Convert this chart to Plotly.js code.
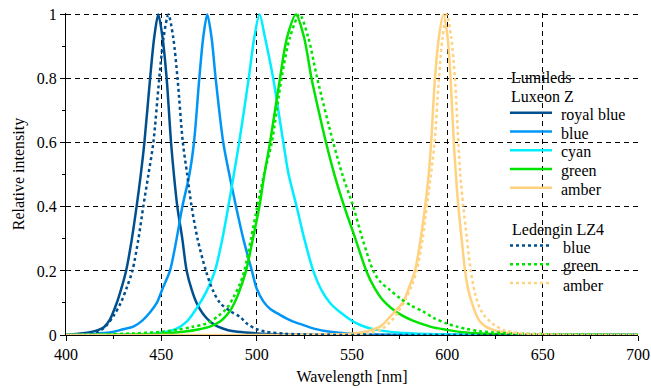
<!DOCTYPE html>
<html>
<head>
<meta charset="utf-8">
<script src="https://cdn.plot.ly/plotly-3.0.1.min.js"></script>
<style>
  html, body { margin: 0; padding: 0; background: #fff; }
  #chart { width: 651px; height: 388px; }
</style>
</head>
<body>
<div id="chart"></div>
<script>
// ---- Data (wavelength in nm, relative intensity) ----
const royalBlueX = [400,405,410,415,418,420,423,426.6,429,431.5,434,437,439.2,441.1,444.1,446.3,448.4,450.6,452.8,455.1,456.6,458.4,461,463.3,466,468.5,472,476,480,485,490,500,510,520,560,600,700];
const royalBlueY = [0,0.003,0.006,0.012,0.018,0.025,0.048,0.1,0.145,0.2,0.28,0.4,0.5,0.6,0.8,0.93,1,0.93,0.8,0.6,0.5,0.4,0.3,0.2,0.14,0.1,0.065,0.04,0.025,0.015,0.01,0.005,0.002,0.001,0,0,0];

const blueX = [400,410,420,425,430,435.3,440,444,447.6,451,454.5,458,461,464.7,467.1,469.9,472,474.1,476.3,478.5,482.5,485.7,489.2,493,497.5,500,503.5,507,512.2,518,524.5,530,538.5,550,565,600,700];
const blueY = [0,0.002,0.006,0.01,0.018,0.026,0.045,0.07,0.1,0.15,0.2,0.3,0.4,0.5,0.6,0.8,0.93,1,0.93,0.8,0.6,0.5,0.4,0.3,0.2,0.145,0.105,0.082,0.063,0.045,0.031,0.02,0.01,0.004,0.001,0,0];

const cyanX = [400,440,450,452.8,458,463.3,467,470.3,474,478.1,482,485.1,488,490.8,495.8,498.8,501.5,504.3,508.7,514,516.8,521,525,529.7,534,538.5,544,550.7,557,563,575,590,610,650,700];
const cyanY = [0,0.002,0.007,0.01,0.02,0.042,0.07,0.1,0.14,0.2,0.3,0.4,0.5,0.6,0.8,0.93,1,0.93,0.8,0.6,0.5,0.4,0.3,0.2,0.14,0.1,0.07,0.042,0.025,0.016,0.007,0.003,0.001,0,0];

const greenX = [400,440,450,461.5,470,475.5,480.8,484.3,487,490.5,494.4,498,501.4,504,507,512.2,516,520.6,524.8,528.8,532.5,536.4,540.8,546,551.8,557.5,561.5,566,571,576,581,587.4,593,599.7,608,617,630,650,700];
const greenY = [0,0.002,0.004,0.01,0.018,0.026,0.042,0.062,0.085,0.13,0.2,0.3,0.4,0.5,0.6,0.8,0.93,1,0.93,0.8,0.7,0.6,0.5,0.4,0.3,0.2,0.15,0.11,0.082,0.062,0.047,0.033,0.023,0.016,0.009,0.005,0.002,0.001,0];

const amberX = [400,540,550.7,558,564.7,568.2,572,576.9,580,583,586,588.3,590.2,591.5,593.5,595.6,597.9,600.1,601.7,603.4,604.5,605.8,607.5,609.3,611,612.7,615,617.1,620,624.1,630,634,645,660,700];
const amberY = [0,0.002,0.005,0.012,0.026,0.045,0.07,0.104,0.15,0.2,0.3,0.4,0.5,0.6,0.8,0.93,1,0.93,0.8,0.6,0.5,0.4,0.3,0.2,0.14,0.104,0.065,0.042,0.027,0.016,0.008,0.005,0.002,0.001,0];

const ledBlueX = [400,410,415,418,421.3,425,428.7,432,434.8,438,440.5,443.2,445.8,448.9,451.2,453.7,456.2,458.5,461.3,463.6,465.9,469,473.4,477,480.8,486,491.3,495,500,505,515,530,560,700];
const ledBlueY = [0,0.003,0.008,0.014,0.03,0.06,0.1,0.15,0.2,0.3,0.4,0.5,0.6,0.8,0.93,1,0.93,0.8,0.6,0.5,0.4,0.3,0.2,0.14,0.1,0.075,0.056,0.035,0.018,0.01,0.004,0.001,0,0];

const ledGreenX = [400,420,435,450,458,466,473.8,480,484.3,488,491.3,493.5,497,500.3,503.8,507.9,513,517.5,522.5,527,531.8,540.2,545,550.7,555.5,561.2,564.7,570,575.2,581,587.4,593,599.7,605,610,617,624,640,660,680,700];
const ledGreenY = [0,0.002,0.005,0.01,0.016,0.025,0.036,0.06,0.083,0.12,0.16,0.2,0.3,0.4,0.5,0.6,0.8,0.93,1,0.93,0.8,0.6,0.5,0.4,0.3,0.2,0.167,0.14,0.115,0.092,0.073,0.053,0.036,0.026,0.019,0.012,0.008,0.004,0.002,0.001,0];

const ledAmberX = [400,550,560,566,570,574,578,581,583.9,587,589.2,591.4,593.3,595.6,597.5,599.7,602,604,605.8,606.8,608.4,610.3,612.3,614.5,617.1,619.5,622.4,625.5,629.4,635,645,660,675,700];
const ledAmberY = [0,0.002,0.007,0.02,0.04,0.07,0.11,0.15,0.2,0.3,0.4,0.5,0.6,0.8,0.93,1,0.93,0.8,0.6,0.5,0.4,0.3,0.2,0.13,0.083,0.06,0.042,0.028,0.016,0.008,0.003,0.001,0,0];

const xTickVals = [400,450,500,550,600,650,700];
const yTickVals = [0,0.2,0.4,0.6,0.8,1];
const groupLumileds = ['Lumileds', 'Luxeon Z'];
const groupLedengin = ['Ledengin LZ4'];

// ---- Styling ----
const FONT = 'Liberation Serif, Times New Roman, serif';
const C = {
  royal: '#00508f',
  blue: '#0096f5',
  cyan: '#00eeff',
  green: '#00e400',
  amber: '#ffd27f'
};
const LW = 2.5;

const series = [
  {x: royalBlueX, y: royalBlueY, name: 'royal blue', color: C.royal, dash: 'solid'},
  {x: blueX, y: blueY, name: 'blue', color: C.blue, dash: 'solid'},
  {x: cyanX, y: cyanY, name: 'cyan', color: C.cyan, dash: 'solid'},
  {x: greenX, y: greenY, name: 'green', color: C.green, dash: 'solid'},
  {x: amberX, y: amberY, name: 'amber', color: C.amber, dash: 'solid'},
  {x: ledBlueX, y: ledBlueY, name: 'blue', color: C.royal, dash: 'dot'},
  {x: ledGreenX, y: ledGreenY, name: 'green', color: C.green, dash: 'dot'},
  {x: ledAmberX, y: ledAmberY, name: 'amber', color: C.amber, dash: 'dot'}
];

const data = series.map(s => ({
  type: 'scatter', mode: 'lines', x: s.x, y: s.y, name: s.name,
  line: {color: s.color, width: LW, dash: s.dash, shape: 'spline', smoothing: 0.85},
  hoverinfo: 'skip', showlegend: false
}));

// ---- Geometry (pixels) ----
const W = 651, H = 388;
const M = {l: 66, r: 13, t: 13, b: 53};
const PW = W - M.l - M.r, PH = H - M.t - M.b;
const px2x = px => (px - M.l) / PW;
const py2y = py => (H - M.b - py) / PH;

// ---- Hand-made legend (sample lines + labels) ----
const shapes = [];
const annotations = [];
const lineX0 = 510, lineX1 = 552;
const rowsLum = [112.7, 131.5, 150.3, 169, 187.8];
const rowsLed = [245.5, 264.2, 283];
function legendText(txt, pxX, pyY) {
  annotations.push({
    xref: 'paper', yref: 'paper', x: px2x(pxX), y: py2y(pyY),
    xanchor: 'left', yanchor: 'middle', showarrow: false, text: txt,
    font: {family: FONT, size: 16, color: '#000'}, borderpad: 0
  });
}
function legendLine(s, pyY) {
  shapes.push({
    type: 'line', xref: 'paper', yref: 'paper',
    x0: px2x(lineX0), x1: px2x(lineX1), y0: py2y(pyY), y1: py2y(pyY),
    line: {color: s.color, width: LW, dash: s.dash}
  });
}
legendText(groupLumileds[0], 510, 77);
legendText(groupLumileds[1], 510, 96.5);
series.slice(0, 5).forEach((s, i) => { legendLine(s, rowsLum[i]); legendText(s.name, 560, rowsLum[i] + 2); });
legendText(groupLedengin[0], 511, 229.5);
series.slice(5).forEach((s, i) => { legendLine(s, rowsLed[i]); legendText(s.name, 562, rowsLed[i] + 2); });

const tickFont = {family: FONT, size: 16, color: '#000'};
const XR = [400, 700];
const YR = [0, 1.005];

const layout = {
  width: W, height: H,
  margin: M,
  paper_bgcolor: '#fff', plot_bgcolor: '#fff',
  font: {family: FONT, size: 16, color: '#000'},
  showlegend: false,
  shapes: shapes,
  annotations: annotations,
  xaxis: {
    range: XR, tickvals: xTickVals, showgrid: true, gridcolor: '#000', gridwidth: 1,
    griddash: '5px,4px', zeroline: false, showline: true, linecolor: '#000', linewidth: 1,
    ticks: 'outside', ticklen: 5, tickcolor: '#000', tickwidth: 1, tickfont: tickFont,
    minor: {dtick: 25, tick0: 400, ticks: 'outside', ticklen: 3, tickcolor: '#000', showgrid: false},
    title: {text: 'Wavelength [nm]', font: {family: FONT, size: 16, color: '#000'}, standoff: 8},
    fixedrange: true
  },
  yaxis: {
    range: YR, tickvals: yTickVals, showgrid: true, gridcolor: '#000', gridwidth: 1,
    griddash: '5px,4px', zeroline: false, showline: true, linecolor: '#000', linewidth: 1,
    ticks: 'outside', ticklen: 5, tickcolor: '#000', tickwidth: 1, tickfont: tickFont,
    minor: {dtick: 0.1, tick0: 0, ticks: 'outside', ticklen: 3, tickcolor: '#000', showgrid: false},
    title: {text: 'Relative intensity', font: {family: FONT, size: 16, color: '#000'}, standoff: 8},
    fixedrange: true
  },
  xaxis2: {
    overlaying: 'x', anchor: 'y', side: 'bottom', range: XR, tickvals: xTickVals,
    showgrid: false, zeroline: false, showline: false, showticklabels: false,
    ticks: 'inside', ticklen: 5, tickcolor: '#000', tickwidth: 1,
    minor: {dtick: 25, tick0: 400, ticks: 'inside', ticklen: 3, tickcolor: '#000', showgrid: false},
    fixedrange: true
  },
  yaxis2: {
    overlaying: 'y', anchor: 'x', side: 'left', range: YR, tickvals: yTickVals,
    showgrid: false, zeroline: false, showline: false, showticklabels: false,
    ticks: 'inside', ticklen: 5, tickcolor: '#000', tickwidth: 1,
    minor: {dtick: 0.1, tick0: 0, ticks: 'inside', ticklen: 3, tickcolor: '#000', showgrid: false},
    fixedrange: true
  }
};

Plotly.newPlot('chart', data, layout, {staticPlot: true, displayModeBar: false});
</script>
</body>
</html>
